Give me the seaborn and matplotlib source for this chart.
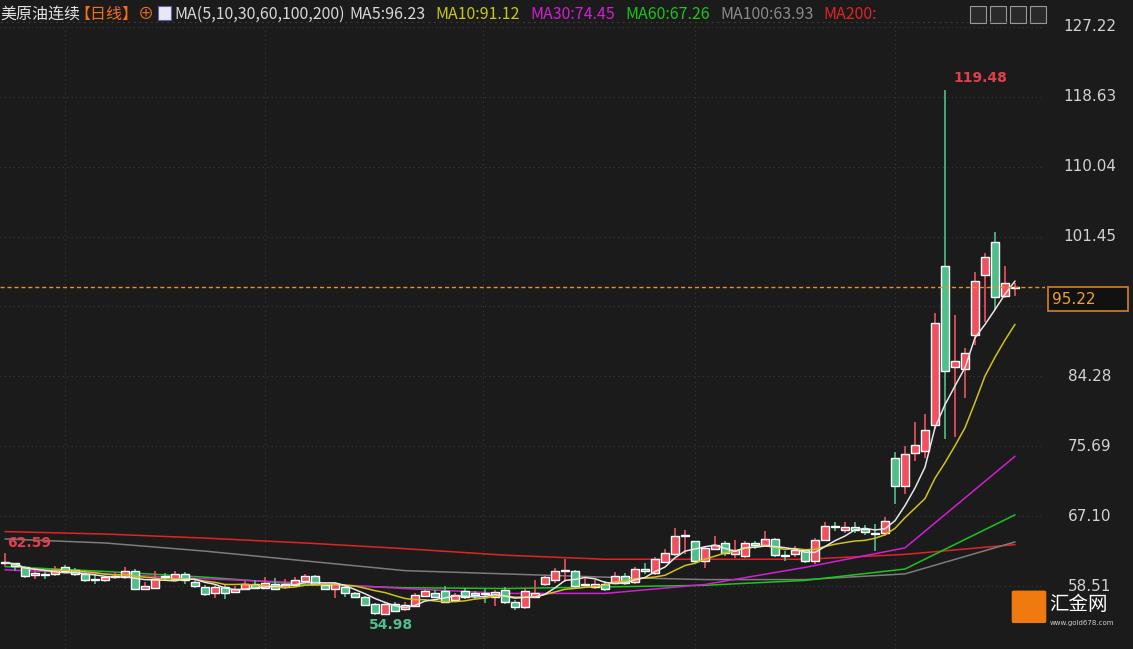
import numpy as np
import pandas as pd
import matplotlib
matplotlib.use("Agg")
import matplotlib.pyplot as plt
import seaborn as sns
from matplotlib.patches import Rectangle, FancyBboxPatch

# daily candles
opens = [61.3, 61.3, 60.8, 59.9, 60.0, 60.0, 60.9, 60.5, 60.0, 59.4,
         59.2, 59.6, 59.6, 60.4, 58.1, 58.3, 59.7, 59.4, 60.0, 59.0,
         58.4, 57.6, 58.4, 57.8, 58.2, 58.7, 58.3, 58.8, 58.4, 58.6,
         59.1, 59.7, 58.6, 58.1, 58.4, 57.6, 57.1, 56.3, 55.1, 56.3,
         55.7, 56.0, 57.3, 57.7, 57.9, 56.8, 57.9, 57.6, 57.6, 57.1,
         58.0, 56.5, 55.9, 57.2, 58.8, 59.2, 60.4, 60.3, 58.6, 58.4,
         58.8, 58.9, 59.8, 59.0, 60.6, 60.1, 61.5, 62.5, 64.6, 64.0,
         61.6, 63.0, 63.8, 62.4, 62.2, 63.8, 63.5, 64.3, 62.3, 62.4,
         62.9, 61.6, 64.2, 65.9, 65.4, 65.8, 65.5, 65.0, 65.0, 74.3,
         70.8, 74.9, 75.1, 78.3, 97.8, 85.4, 85.2, 89.4, 96.7, 100.8,
         94.2, 95.1]
highs = [62.59, 61.4, 61.0, 60.7, 60.5, 61.0, 61.1, 60.7, 60.5, 60.0,
         59.8, 60.2, 60.8, 60.6, 59.0, 60.4, 60.1, 60.4, 60.2, 59.4,
         58.6, 58.7, 58.7, 58.5, 59.1, 59.3, 59.6, 59.5, 59.4, 59.6,
         60.0, 59.9, 58.9, 58.9, 58.6, 57.8, 57.3, 56.4, 56.5, 56.6,
         56.5, 57.6, 58.1, 58.0, 58.5, 57.7, 58.3, 57.9, 58.2, 58.0,
         58.4, 56.8, 58.3, 59.2, 59.9, 60.7, 61.8, 60.5, 59.8, 59.2,
         59.1, 60.2, 60.1, 60.8, 61.3, 62.1, 63.0, 65.6, 65.4, 64.1,
         63.4, 64.6, 64.0, 64.2, 64.0, 64.0, 65.3, 64.4, 62.8, 63.4,
         63.1, 64.4, 66.4, 66.4, 66.4, 66.4, 66.0, 66.1, 67.0, 75.0,
         75.7, 78.7, 79.7, 92.1, 119.48, 91.8, 87.8, 97.1, 99.4, 102.0,
         97.9, 95.8]
lows = [61.0, 60.4, 59.5, 59.4, 59.4, 59.8, 60.2, 59.8, 59.0, 58.7,
        59.0, 59.4, 59.4, 58.0, 58.0, 58.2, 59.3, 59.2, 58.8, 58.3,
        57.3, 57.0, 56.9, 57.6, 58.0, 58.1, 58.1, 58.0, 58.2, 58.4,
        58.8, 58.6, 58.0, 57.0, 57.2, 57.0, 56.0, 54.98, 55.0, 55.3,
        55.5, 55.9, 57.1, 57.0, 56.4, 56.5, 56.9, 56.8, 56.4, 56.0,
        56.3, 55.6, 55.7, 57.0, 58.5, 58.9, 59.0, 58.3, 58.4, 58.2,
        57.9, 58.7, 58.6, 58.8, 60.0, 59.9, 61.3, 62.2, 62.4, 61.3,
        60.7, 62.9, 62.2, 61.9, 62.0, 63.1, 63.3, 62.1, 61.6, 62.1,
        61.3, 61.2, 64.0, 65.3, 65.0, 65.0, 64.8, 62.8, 64.6, 68.6,
        69.8, 73.9, 74.2, 77.8, 76.6, 76.8, 81.6, 88.1, 91.0, 92.4,
        93.9, 94.1]
closes = [61.4, 61.0, 59.8, 60.1, 59.9, 60.5, 60.4, 60.0, 59.2, 59.3,
          59.6, 59.8, 60.4, 58.2, 58.5, 59.4, 59.6, 60.0, 59.2, 58.5,
          57.5, 58.4, 57.7, 58.2, 58.8, 58.3, 58.9, 58.2, 58.7, 59.2,
          59.7, 58.8, 58.1, 58.7, 57.6, 57.2, 56.2, 55.2, 56.3, 55.5,
          56.2, 57.4, 57.9, 57.2, 56.6, 57.4, 57.2, 57.4, 57.5, 57.8,
          56.5, 55.9, 57.9, 57.6, 59.6, 60.4, 60.5, 58.5, 58.8, 58.8,
          58.2, 59.8, 58.9, 60.6, 60.3, 61.8, 62.6, 64.6, 64.7, 61.6,
          63.2, 63.6, 62.6, 62.9, 63.8, 63.5, 64.3, 62.3, 62.2, 62.9,
          61.6, 64.2, 65.9, 65.8, 65.8, 65.4, 65.1, 64.9, 66.5, 70.8,
          74.7, 75.9, 77.7, 90.8, 84.9, 86.2, 87.2, 96.0, 99.0, 94.0,
          95.7, 95.22]

# longer averages, read every 10th day off the picture
ma_days = [0, 10, 20, 30, 40, 50, 60, 70, 80, 90, 101]
ma30 = [60.5, 60.0, 59.4, 58.9, 58.2, 57.6, 57.6, 58.7, 60.8, 63.2, 74.45]
ma60 = [60.9, 60.3, 59.6, 58.7, 58.3, 58.2, 58.4, 58.6, 59.2, 60.6, 67.26]
ma100 = [64.3, 63.8, 62.8, 61.6, 60.4, 60.0, 59.6, 59.3, 59.3, 60.0, 63.93]
ma200 = [65.2, 64.9, 64.4, 63.8, 63.1, 62.3, 61.8, 61.8, 61.8, 62.4, 63.6]

y_ticks = [127.22, 118.63, 110.04, 101.45, 92.87, 84.28, 75.69, 67.10, 58.51]
last_price = 95.22

BG = "#1b1b1b"
UP = "#f0505f"
DOWN = "#4fbf8a"
Y_TOP, Y_BOT = 127.83, 50.77

sns.set_style("dark", {"axes.facecolor": BG, "figure.facecolor": BG})
plt.rcParams["font.family"] = ["Noto Sans CJK SC", "DejaVu Sans"]

fig = plt.figure(figsize=(11.33, 6.49), dpi=100)
ax = fig.add_axes([0, 0, 1045 / 1133, 627 / 649])
ax.set_facecolor(BG)

df = pd.DataFrame({"open": opens, "high": highs, "low": lows, "close": closes})
df["day"] = np.arange(len(df))
df["ma5"] = df["close"].rolling(5, min_periods=1).mean()
df["ma10"] = df["close"].rolling(10, min_periods=1).mean()

# grid
for t in y_ticks:
    ax.axhline(t, color="#3a3a3a", lw=0.8, ls=(0, (1, 3)), zorder=0)
for gx in [6, 26, 47.8, 69, 89]:
    ax.axvline(gx, color="#3a3a3a", lw=0.8, ls=(0, (1, 3)), zorder=0)

# long MAs
ma_long = pd.DataFrame({"day": ma_days, "MA30": ma30, "MA60": ma60,
                        "MA100": ma100, "MA200": ma200})
for name, col in [("MA200", "#e02424"), ("MA100", "#7c7c7c"),
                  ("MA60", "#1ec41e"), ("MA30", "#d21fd2")]:
    sns.lineplot(data=ma_long, x="day", y=name, color=col, lw=1.1, ax=ax, zorder=2)

# candles
up = df["close"] >= df["open"]
colors = np.where(up, UP, DOWN)
ax.vlines(df["day"], df["low"], df["high"], colors=colors, lw=1.2, zorder=3)
bottoms = np.minimum(df["open"], df["close"])
heights = np.maximum(np.abs(df["close"] - df["open"]), 0.12)
ax.bar(df["day"], heights, bottom=bottoms, width=0.72, color=colors, zorder=4)

sns.lineplot(data=df, x="day", y="ma10", color="#cfc21a", lw=1.1, ax=ax, zorder=5)
sns.lineplot(data=df, x="day", y="ma5", color="#e6e6e6", lw=1.1, ax=ax, zorder=6)

ax.axhline(last_price, color="#f08a1c", lw=1.0, ls=(0, (3, 2)), zorder=7)

ax.set_xlim(-0.5, 104)
ax.set_ylim(Y_BOT, Y_TOP)
ax.set_xticks([])
ax.set_yticks([])
ax.set_xlabel("")
ax.set_ylabel("")
for s in ax.spines.values():
    s.set_visible(False)

# extreme labels
hi_i = int(np.argmax(highs))
lo_i = int(np.argmin(lows))
left_hi = max(highs[:10])
ax.text(hi_i + 0.8, highs[hi_i] + 0.6, f"{highs[hi_i]:.2f}", color="#e0404c",
        fontsize=10, fontweight="bold", va="bottom", family="DejaVu Sans")
ax.text(0.2, left_hi + 0.4, f"{left_hi:.2f}", color="#e0404c", fontsize=10,
        fontweight="bold", va="bottom", family="DejaVu Sans")
ax.text(lo_i - 0.6, lows[lo_i] - 0.4, f"{lows[lo_i]:.2f}", color="#4fbf8a",
        fontsize=10, fontweight="bold", va="top", family="DejaVu Sans")

# right price axis
def fy(p):
    return (p - Y_BOT) / (Y_TOP - Y_BOT) * (627 / 649)

for t in y_ticks:
    if t == 92.87:
        continue
    fig.text(1090 / 1133, fy(t), f"{t:.2f}", color="#d2d2d2", fontsize=11,
             ha="center", va="center", family="DejaVu Sans")
box = FancyBboxPatch((1048 / 1133, fy(last_price) - 0.036), 80 / 1133, 0.036,
                     boxstyle="square,pad=0", transform=fig.transFigure,
                     facecolor="#111111", edgecolor="#d77f1f", lw=1.2)
fig.patches.append(box)
fig.text(1052 / 1133, fy(last_price) - 0.018, f"{last_price:.2f}", color="#f0a030",
         fontsize=11, ha="left", va="center", family="DejaVu Sans")

# header
fig.add_artist(plt.Line2D([0, 1045 / 1133], [627 / 649, 627 / 649],
                          color="#3a3a3a", lw=0.8, ls=(0, (2, 3))))
header = [("美原油连续", "#e0e0e0", 0), ("【日线】", "#f07020", 74),
          ("⊕", "#f07020", 138), ("MA(5,10,30,60,100,200)", "#d8d8d8", 174),
          ("MA5:96.23", "#d8d8d8", 349), ("MA10:91.12", "#c8c81a", 435),
          ("MA30:74.45", "#d21fd2", 530), ("MA60:67.26", "#1ec41e", 625),
          ("MA100:63.93", "#8a8a8a", 720), ("MA200:", "#e02424", 823)]
for txt, col, x in header:
    fig.text(x / 1133, 0.978, txt, color=col, fontsize=11.5, va="center")
fig.patches.append(Rectangle((158 / 1133, 0.969), 13 / 1133, 0.022, transform=fig.transFigure,
                             facecolor="#e8e8f0", edgecolor="#6060c0", lw=0.8))
for k in range(4):
    fig.patches.append(Rectangle(((970 + 20 * k) / 1133, 0.965), 16 / 1133, 0.026,
                                 transform=fig.transFigure, facecolor="#2a2a2a",
                                 edgecolor="#9a9a9a", lw=0.8))

# watermark logo
fig.patches.append(FancyBboxPatch((1014 / 1133, 0.042), 30 / 1133, 0.046,
                                  boxstyle="round,pad=0.002", transform=fig.transFigure,
                                  facecolor="#f07a10", edgecolor="none"))
fig.text(1049 / 1133, 0.068, "汇金网", color="white", fontsize=14, va="center")
fig.text(1050 / 1133, 0.040, "www.gold678.com", color="#cccccc", fontsize=5, va="center",
         family="DejaVu Sans")

fig.savefig("out.png", dpi=100, facecolor=BG)
